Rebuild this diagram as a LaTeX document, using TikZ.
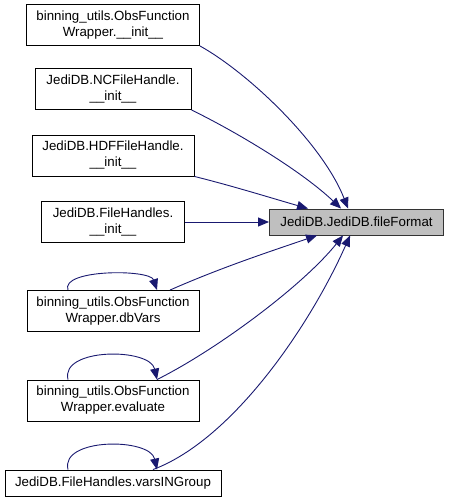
\documentclass[tikz,border=0pt]{standalone}
\usepackage{fontspec}
\setmainfont{Liberation Sans}
\usetikzlibrary {arrows.meta, positioning}
\definecolor{edgeblue}{HTML}{191970}
\definecolor{targetgray}{HTML}{BFBFBF}
\newcommand*{\callsize}{\fontsize{13.3}{16}\selectfont}

\begin{document}
\begin{tikzpicture}[
      x=1pt,y=-1pt,on grid,>={Triangle[length=11pt,width=9pt]},
      fn/.style={draw=black, line width=0.9pt, fill=white, align=center, inner sep=0pt,
        font=\callsize, minimum height=41pt},
      oneline/.style={fn, minimum height=26pt},
      target/.style={oneline, fill=targetgray, draw=black!80},
      call/.style={->, draw=edgeblue, line width=0.9pt},
      ]
      \useasboundingbox (0,0) rectangle (449,502);

      \node[fn, minimum width=173pt]      (wrap_init)  at (113,25)              {binning\_utils.ObsFunction\\Wrapper.\_\_init\_\_};
      \node[fn, minimum width=156pt]      (nc_init)    [below=64pt of wrap_init] {JediDB.NCFileHandle.\\\_\_init\_\_};
      \node[fn, minimum width=162pt]      (hdf_init)   [below=66.5pt of nc_init] {JediDB.HDFFileHandle.\\\_\_init\_\_};
      \node[fn, minimum width=143pt]      (fh_init)    [below=66.5pt of hdf_init] {JediDB.FileHandles.\\\_\_init\_\_};
      \node[fn, minimum width=172pt]      (db_vars)    [below=89pt of fh_init]  {binning\_utils.ObsFunction\\Wrapper.dbVars};
      \node[fn, minimum width=172pt]      (evaluate)   [below=89.5pt of db_vars] {binning\_utils.ObsFunction\\Wrapper.evaluate};
      \node[oneline, minimum width=216pt] (vars_group) [below=82.5pt of evaluate] {JediDB.FileHandles.varsINGroup};
      \node[target, minimum width=174pt]  (file_fmt)   [right=243.5pt of fh_init] {JediDB.JediDB.fileFormat};

      % callers above
      \draw[call] (wrap_init.south east) .. controls +(50,28) and +(-25,-64) .. ([xshift=79pt]file_fmt.north west);
      \draw[call] (nc_init.south east) .. controls +(45,22) and +(-40,-38) .. ([xshift=72pt]file_fmt.north west);
      \draw[call] (hdf_init.south east) .. controls +(40,10) and +(-35,-10) .. ([xshift=39pt]file_fmt.north west);
      \draw[call] (fh_init.east) -- (file_fmt.west);

      % callers below
      \draw[call] ([xshift=57pt]db_vars.north) .. controls +(50,-22) and +(-50,17) .. ([xshift=48pt]file_fmt.south west);
      \draw[call] ([xshift=44pt]evaluate.north) .. controls +(60,-30) and +(-40,50) .. ([xshift=74pt]file_fmt.south west);
      \draw[call] ([xshift=40pt]vars_group.north) .. controls +(80,-30) and +(-40,90) .. ([xshift=81pt]file_fmt.south west);

      % recursive calls
      \draw[call] ([xshift=-45pt]db_vars.north) .. controls +(-8,-21) and +(-7,-21) .. ([xshift=44pt]db_vars.north);
      \draw[call] ([xshift=-45pt]evaluate.north) .. controls +(-8,-32) and +(-7,-32) .. ([xshift=44pt]evaluate.north);
      \draw[call] ([xshift=-45pt]vars_group.north) .. controls +(-8,-32) and +(-7,-32) .. ([xshift=44pt]vars_group.north);
    \end{tikzpicture}
\end{document}
